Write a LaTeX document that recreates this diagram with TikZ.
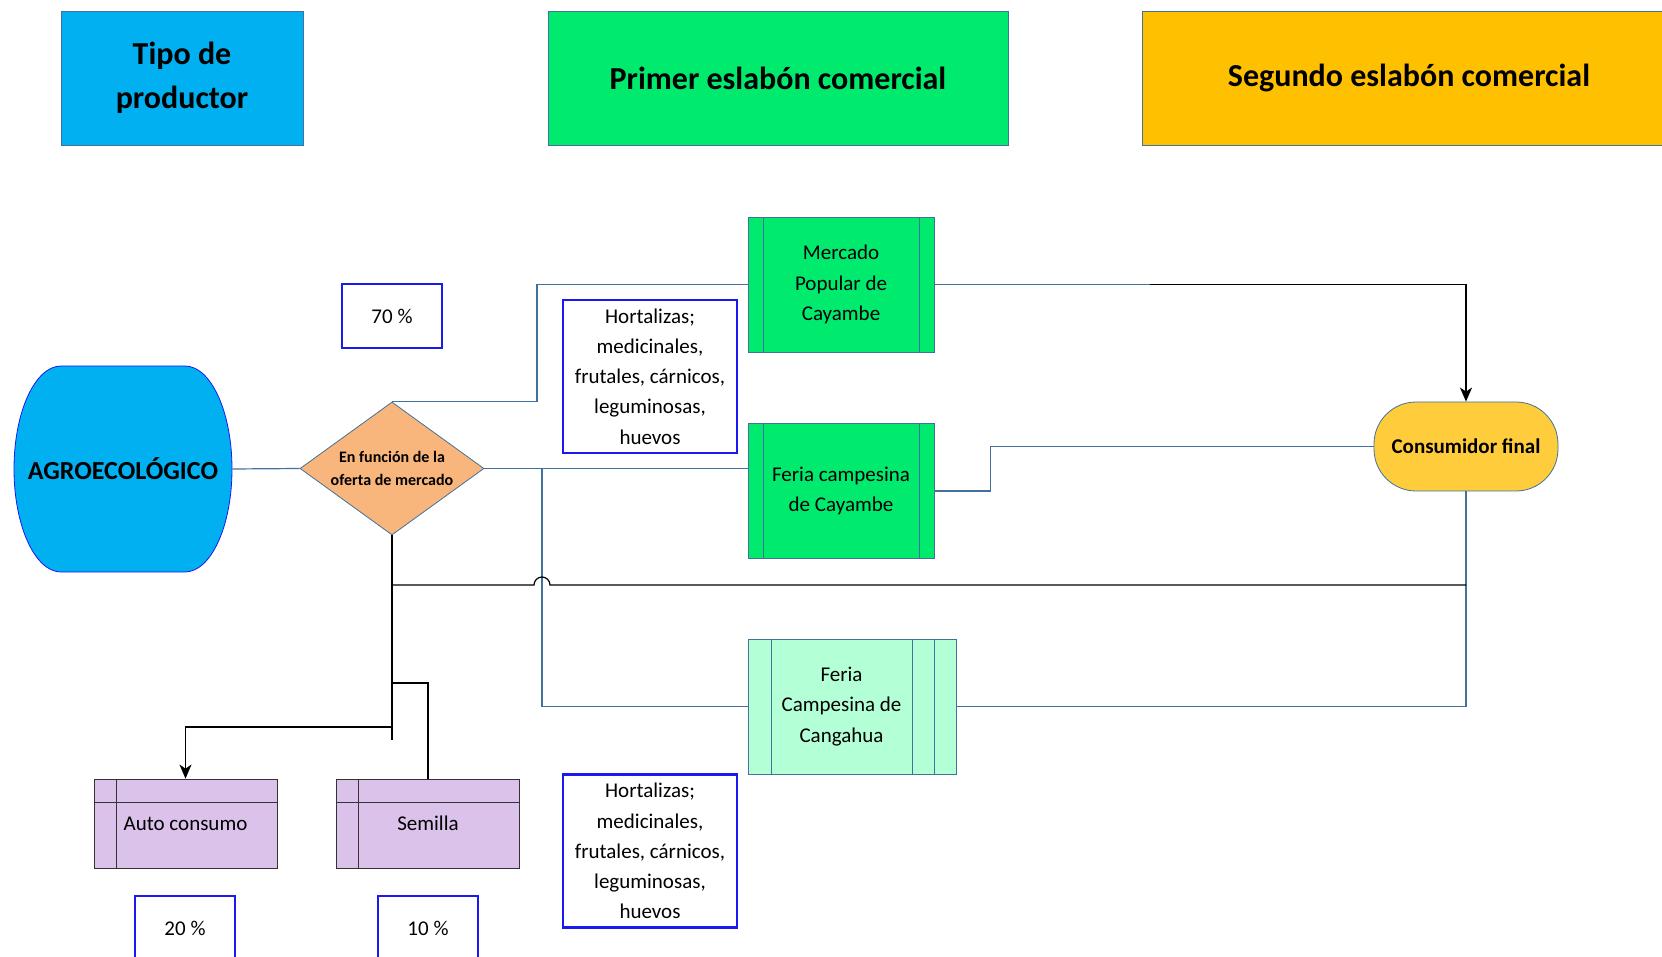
\documentclass[tikz,border=0pt]{standalone}
\usepackage{fontspec}
\setmainfont{Carlito}
\usetikzlibrary{shapes.geometric,arrows.meta,calc}

\definecolor{cielo}{HTML}{00B0F0}
\definecolor{verde}{HTML}{00EB6E}
\definecolor{ambar}{HTML}{FFC000}
\definecolor{menta}{HTML}{B3FFD6}
\definecolor{lila}{HTML}{DAC2EA}
\definecolor{durazno}{HTML}{F8B67C}
\definecolor{oro}{HTML}{FFCC3C}
\definecolor{linea}{HTML}{41719C}
\definecolor{azul}{HTML}{1A1AF0}

\newcommand{\texto}{\fontsize{10.5}{15.2}\selectfont}

\tikzset{
  encabezado/.style={draw=linea, thin, align=center, inner sep=0pt,
    minimum height=67pt, font=\bfseries\fontsize{16}{22}\selectfont},
  proceso/.style={draw=linea, fill=verde, align=center, inner sep=0pt,
    minimum width=93pt, minimum height=67.5pt, font=\texto,
    path picture={
      \draw[linea] ([xshift=7.5pt]path picture bounding box.north west) -- ([xshift=7.5pt]path picture bounding box.south west)
                   ([xshift=-7.5pt]path picture bounding box.north east) -- ([xshift=-7.5pt]path picture bounding box.south east);}},
  procesob/.style={draw=linea, fill=menta, inner sep=0pt,
    minimum width=104pt, minimum height=67.5pt,
    path picture={
      \draw[linea] ([xshift=11.5pt]path picture bounding box.north west) -- ([xshift=11.5pt]path picture bounding box.south west)
                   ([xshift=-11pt]path picture bounding box.north east) -- ([xshift=-11pt]path picture bounding box.south east)
                   ([xshift=-22pt]path picture bounding box.north east) -- ([xshift=-22pt]path picture bounding box.south east);}},
  almacen/.style={draw=black!80, fill=lila, inner sep=0pt, font=\texto,
    minimum width=91.5pt, minimum height=44.5pt,
    path picture={
      \draw[black!80] ([xshift=11pt]path picture bounding box.north west) -- ([xshift=11pt]path picture bounding box.south west)
                      ([yshift=-11.5pt]path picture bounding box.north west) -- ([yshift=-11.5pt]path picture bounding box.north east);}},
  decision/.style={diamond, draw=linea, fill=durazno, align=center, inner sep=0pt, aspect=1.4,
    minimum width=92pt, minimum height=66.5pt, font=\bfseries\fontsize{8}{11.5}\selectfont},
  terminal/.style={draw=linea, fill=oro, rounded corners=21pt, inner sep=0pt,
    minimum width=92pt, minimum height=44.5pt, font=\bfseries\texto},
  pct/.style={draw=azul, line width=1.2pt, fill=white, inner sep=0pt,
    minimum width=50pt, minimum height=32pt, font=\texto},
  nota/.style={draw=azul, line width=1.2pt, fill=white, align=center, inner sep=0pt,
    minimum width=87pt, minimum height=76.5pt, font=\fontsize{10.5}{15.1}\selectfont},
  enlace/.style={draw=linea, line width=0.6pt},
  enlacen/.style={draw=black, line width=0.6pt},
}

\begin{document}
\begin{tikzpicture}[x=0.5pt,y=-0.5pt]
\useasboundingbox (0,0) rectangle (1662,957);

% encabezados
\node[encabezado, fill=cielo, minimum width=121pt] (tipo) at (182,78) {Tipo de\\productor};
\node[encabezado, fill=verde, minimum width=230pt] (primer) at (778,78) {Primer eslabón comercial};
\node[encabezado, fill=ambar, minimum width=267pt] (segundo) at (1409,78) {Segundo eslabón comercial};

% productor
\draw[draw=azul, fill=cielo] (61,366) -- (185,366) arc[start angle=-90, end angle=90, x radius=47, y radius=103]
  -- (61,572) arc[start angle=90, end angle=270, x radius=47, y radius=103] -- cycle;
\node[minimum width=109pt, minimum height=103pt, inner sep=0pt, font=\bfseries\fontsize{13}{15}\selectfont] (agro) at (123,469) {AGROECOLÓGICO};

\node[decision] (oferta) at (392,468.5) {En función de la\\oferta de mercado};
\node[pct] (p70) at (392,316) {70~\%};

% primer eslabon
\node[proceso] (mercado) at (841,284.5) {Mercado\\Popular de\\Cayambe};
\node[nota] (prod1) at (650,376.5) {Hortalizas;\\medicinales,\\frutales, cárnicos,\\leguminosas,\\huevos};
\node[proceso] (feria) at (841,491) {Feria campesina\\de Cayambe};
\node[procesob] (cangahua) at (852,706.5) {};
\node[align=center, font=\texto] (cangahuatxt) at (841.5,706.5) {Feria\\Campesina de\\Cangahua};
\node[nota] (prod2) at (650,851) {Hortalizas;\\medicinales,\\frutales, cárnicos,\\leguminosas,\\huevos};

% segundo eslabon
\node[terminal] (consumidor) at (1466,446.5) {Consumidor final};

% destino interno
\node[almacen] (auto) at (185.5,823.5) {Auto consumo};
\node[almacen] (semilla) at (428,823.5) {Semilla};
\node[pct] (p20) at (185,928) {20~\%};
\node[pct] (p10) at (428,928) {10~\%};

\coordinate (cambio) at (1150,284.5);
\coordinate (ramal) at (542,468.5);
\coordinate (nivel) at (0,585);
\coordinate (fin) at (392,740);

\draw[enlace] (oferta.north) -- ++(145,0) |- (mercado.west);
\draw[enlace] (agro.east) -- (oferta.west);
\draw[enlace] (mercado.east) -- (cambio);
\draw[enlacen, -{Stealth[width=6pt,length=7pt,inset=2pt]}] (cambio) -| (consumidor.north);
\draw[enlace] (oferta.east) -- (oferta.east -| feria.west);
\draw[enlace] (ramal) |- (cangahua.west);
\draw[enlace] (feria.east) -- ++(56,0) |- (consumidor.west);
\draw[enlace] (consumidor.south) |- (cangahua.east);
\draw[enlacen] (consumidor.south |- nivel) -- (550,585) arc[start angle=0, end angle=-180, radius=8] -- (oferta.south |- nivel);
\draw[enlacen] (oferta.south) -- (fin);
\draw[enlacen] (392,683) -| (semilla.north);
\draw[enlacen, -{Stealth[width=6pt,length=7pt,inset=2pt]}] (392,727) -| (auto.north);

\end{tikzpicture}
\end{document}
